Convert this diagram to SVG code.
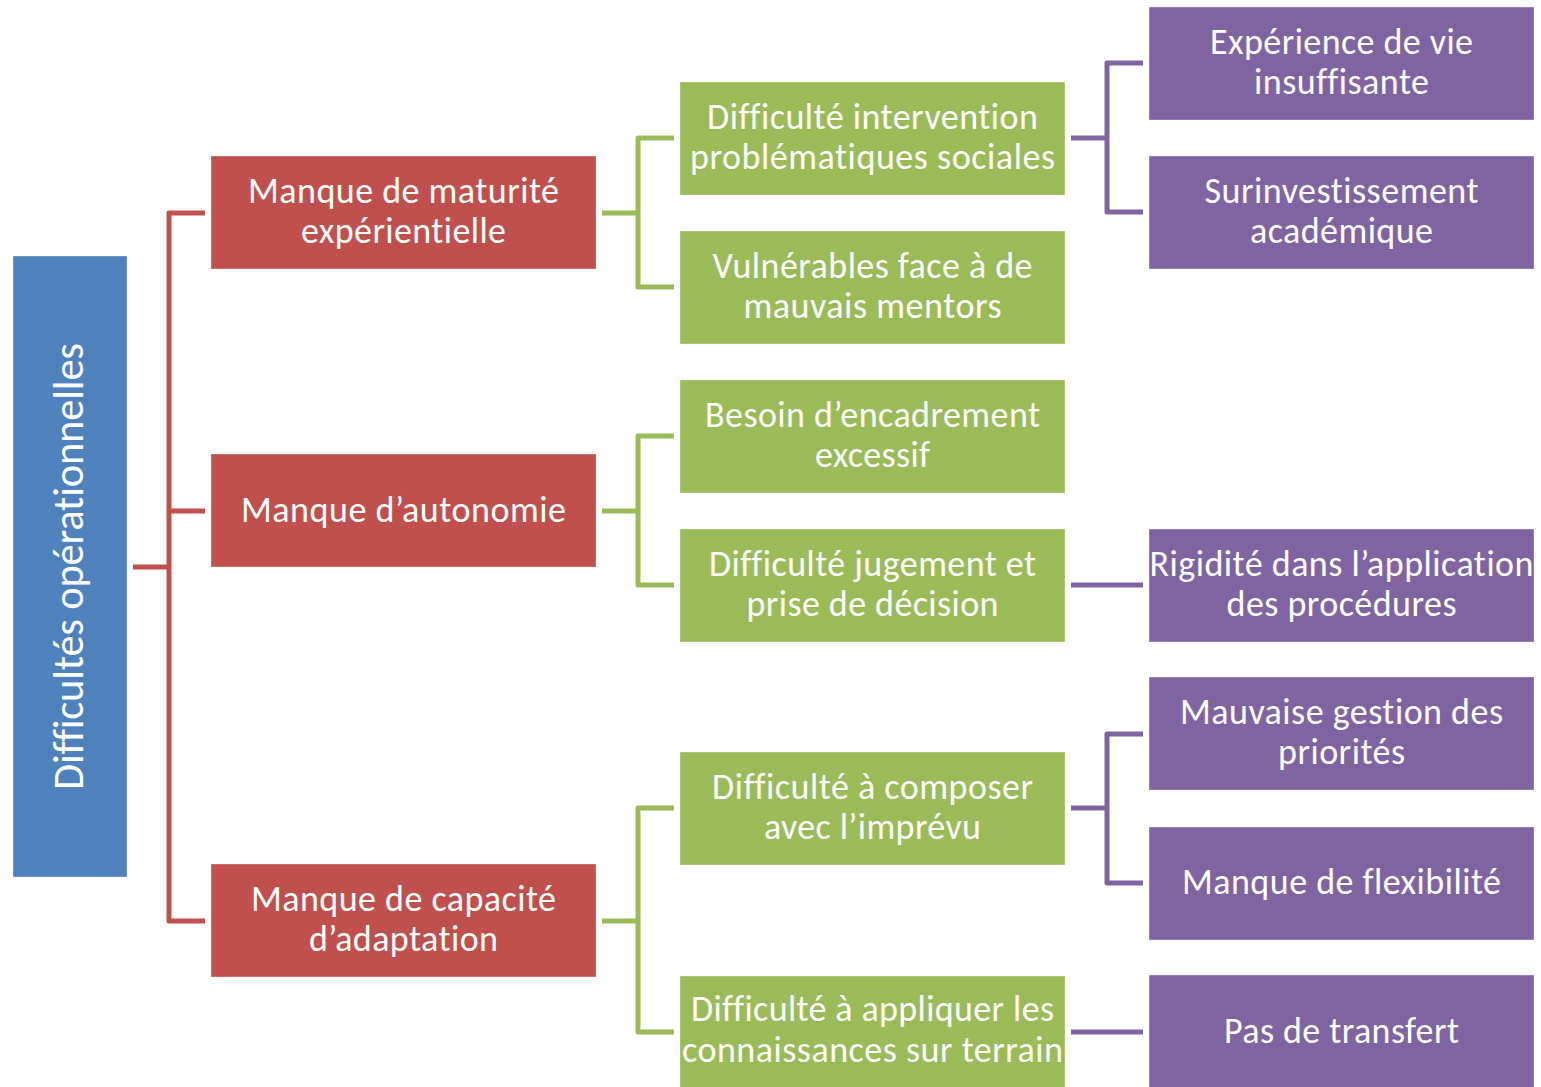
<svg xmlns="http://www.w3.org/2000/svg" width="1541" height="1087" viewBox="0 0 1541 1087">
<style>
.b{stroke:#ffffff;stroke-opacity:0.35;stroke-width:1}
.blue{fill:#4F81BD}.red{fill:#C0504D}.green{fill:#9BBB59}.purple{fill:#8064A2}
text{font-family:Carlito,"Open Sans","Liberation Sans",sans-serif;font-size:36px;fill:#ffffff;text-anchor:middle;font-variant-ligatures:none}
.v{font-size:42.5px}
.c{fill:none;stroke-width:5;stroke-linejoin:round}
.cr{stroke:#C0504D}.cg{stroke:#9BBB59}.cp{stroke:#8064A2}
</style>
<rect width="1541" height="1087" fill="#ffffff"/>
<g id="connectors">
<path class="c cr" d="M133,567 H169 M205,213 H169 V921 H205 M169,511 H205"/>
<path class="c cg" d="M602,213 H638 M674,138 H638 V287 H674"/>
<path class="c cg" d="M602,511 H638 M674,436 H638 V585 H674"/>
<path class="c cg" d="M602,921 H638 M674,808 H638 V1032 H674"/>
<path class="c cp" d="M1071,138 H1107 M1143,63 H1107 V212 H1143"/>
<path class="c cp" d="M1071,585 H1143"/>
<path class="c cp" d="M1071,808 H1107 M1143,734 H1107 V883 H1143"/>
<path class="c cp" d="M1071,1032 H1143"/>
</g>
<g id="root"><rect class="b blue" x="13" y="256" width="114" height="621"/>
<text class="v" transform="translate(83,566.5) rotate(-90)" textLength="447">Difficultés opérationnelles</text></g>
<g id="n1"><rect class="b red" x="211" y="156" width="385" height="113"/><text x="403.5" y="203" textLength="311">Manque de maturité</text><text x="403.5" y="243" textLength="205">expérientielle</text></g>
<g id="n2"><rect class="b red" x="211" y="454" width="385" height="113"/><text x="403.5" y="522" textLength="325">Manque d’autonomie</text></g>
<g id="n3"><rect class="b red" x="211" y="864" width="385" height="113"/><text x="403.5" y="911" textLength="305">Manque de capacité</text><text x="403.5" y="951" textLength="189">d’adaptation</text></g>
<g id="g1"><rect class="b green" x="680" y="82" width="385" height="113"/><text x="872.5" y="129" textLength="331">Difficulté intervention</text><text x="872.5" y="169" textLength="365">problématiques sociales</text></g>
<g id="g2"><rect class="b green" x="680" y="231" width="385" height="113"/><text x="872.5" y="278" textLength="320">Vulnérables face à de</text><text x="872.5" y="318" textLength="258">mauvais mentors</text></g>
<g id="g3"><rect class="b green" x="680" y="380" width="385" height="113"/><text x="872.5" y="427" textLength="335">Besoin d’encadrement</text><text x="872.5" y="467" textLength="115">excessif</text></g>
<g id="g4"><rect class="b green" x="680" y="529" width="385" height="113"/><text x="872.5" y="576" textLength="327">Difficulté jugement et</text><text x="872.5" y="616" textLength="252">prise de décision</text></g>
<g id="g5"><rect class="b green" x="680" y="752" width="385" height="113"/><text x="872.5" y="799" textLength="321">Difficulté à composer</text><text x="872.5" y="839" textLength="217">avec l’imprévu</text></g>
<g id="g6"><rect class="b green" x="680" y="976" width="385" height="113"/><text x="872.5" y="1021" textLength="363">Difficulté à appliquer les</text><text x="872.5" y="1062" textLength="381">connaissances sur terrain</text></g>
<g id="p1"><rect class="b purple" x="1149" y="7" width="385" height="113"/><text x="1341.5" y="54" textLength="263">Expérience de vie</text><text x="1341.5" y="94" textLength="175">insuffisante</text></g>
<g id="p2"><rect class="b purple" x="1149" y="156" width="385" height="113"/><text x="1341.5" y="203" textLength="274">Surinvestissement</text><text x="1341.5" y="243" textLength="183">académique</text></g>
<g id="p3"><rect class="b purple" x="1149" y="529" width="385" height="113"/><text x="1341.5" y="576" textLength="384">Rigidité dans l’application</text><text x="1341.5" y="616" textLength="230">des procédures</text></g>
<g id="p4"><rect class="b purple" x="1149" y="677" width="385" height="113"/><text x="1341.5" y="724" textLength="323">Mauvaise gestion des</text><text x="1341.5" y="764" textLength="127">priorités</text></g>
<g id="p5"><rect class="b purple" x="1149" y="827" width="385" height="113"/><text x="1341.5" y="894" textLength="319">Manque de flexibilité</text></g>
<g id="p6"><rect class="b purple" x="1149" y="975" width="385" height="113"/><text x="1341.5" y="1043" textLength="235">Pas de transfert</text></g>
</svg>
